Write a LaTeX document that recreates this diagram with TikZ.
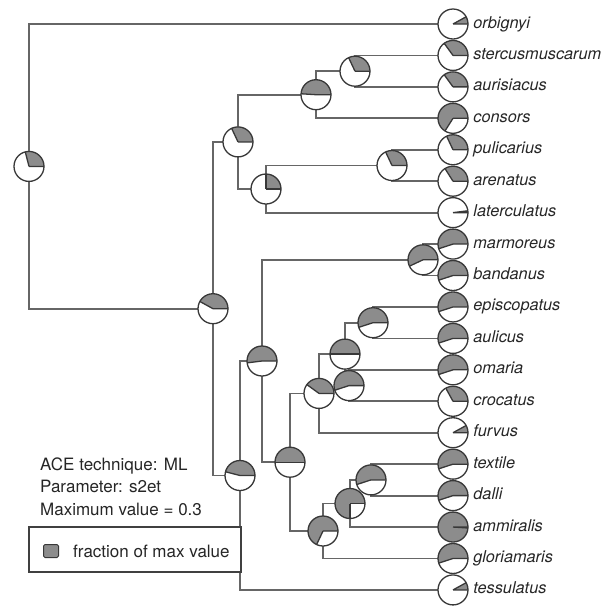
\documentclass[tikz,border=0pt]{standalone}
\usepackage{fontspec}
\setmainfont{TeX Gyre Heros}
\usetikzlibrary{positioning,backgrounds}
\definecolor{EdgeGray}{HTML}{666666}
\definecolor{PieGray}{HTML}{8C8C8C}
\definecolor{PieLine}{HTML}{383838}
\newcommand{\pierad}{15pt}
% one pie: name, position, fraction of max value
\newcommand{\acepie}[3]{%
  \node[piebase] (#1) at (#2) {};
  \fill[PieGray] (#1.center) -- ++(0:\pierad) arc[start angle=0, delta angle={360*#3}, radius=\pierad] -- cycle;
  \draw[pieedge] (#1.center) -- ++(0:\pierad) (#1.center) -- ++({360*#3}:\pierad);
  \draw[pieedge] (#1.center) circle[radius=\pierad];
}
\tikzset{
  piebase/.style={
    circle,
    fill=white,
    minimum size=30pt,
    inner sep=0pt
  },
  pieedge/.style={
    draw=PieLine,
    line width=1.3pt
  },
  treeedge/.style={
    draw=EdgeGray,
    line width=1.8pt
  },
  tiplabel/.style={
    inner sep=0pt,
    text height=11pt,
    text depth=3pt,
    font=\fontsize{16.3}{19}\selectfont\itshape,
    text=black!85
  },
  legendtext/.style={
    inner sep=0pt,
    font=\fontsize{17}{20}\selectfont,
    text=black!85
  }
}
\begin{document}
\begin{tikzpicture}[x=1pt,y=1pt]
\useasboundingbox (0,0) rectangle (602,-606);
% tips
\foreach \tip/\f [count=\i from 0] in {orbignyi/0.08, stercusmuscarum/0.35, aurisiacus/0.35,
    consors/0.66, pulicarius/0.32, arenatus/0.34, laterculatus/0.02, marmoreus/0.55,
    bandanus/0.55, episcopatus/0.55, aulicus/0.55, omaria/0.55, crocatus/0.33,
    furvus/0.08, textile/0.55, dalli/0.55, ammiralis/0.99, gloriamaris/0.55, tessulatus/0.08}
{
  \acepie{\tip}{453,{-24-31.44*\i}}{\f}
  \node[tiplabel, right=5pt of \tip] (\tip-label) {\tip};
}
% internal nodes
\acepie{root}{29,-166.4}{0.29}
\acepie{cladeA}{213,-308.7}{0.42}
\acepie{cladeB}{238,-141.9}{0.32}
\acepie{cladeD}{316,-94.7}{0.49}
\acepie{cladeF}{355,-71.2}{0.32}
\acepie{cladeE}{266,-189}{0.25}
\acepie{cladeG}{392,-165.5}{0.32}
\acepie{cladeC}{240,-475.5}{0.46}
\acepie{cladeH}{262,-361}{0.52}
\acepie{cladeI}{423,-259.8}{0.57}
\acepie{cladeJ}{290,-462.2}{0.5}
\acepie{cladeK}{319,-393.4}{0.4}
\acepie{cladeM}{345,-354.1}{0.5}
\acepie{cladeO}{373,-322.7}{0.55}
\acepie{cladeN}{349,-385.6}{0.55}
\acepie{cladeL}{323,-531}{0.68}
\acepie{cladeP}{350,-503.5}{0.75}
\acepie{cladeQ}{371,-479.9}{0.55}
% branches
\begin{scope}[on background layer]
\draw[treeedge] (root.center) |- (orbignyi.center);
\draw[treeedge] (root.center) |- (cladeA.center);
\draw[treeedge] (cladeA.center) |- (cladeB.center);
\draw[treeedge] (cladeA.center) |- (cladeC.center);
\draw[treeedge] (cladeB.center) |- (cladeD.center);
\draw[treeedge] (cladeB.center) |- (cladeE.center);
\draw[treeedge] (cladeD.center) |- (cladeF.center);
\draw[treeedge] (cladeD.center) |- (consors.center);
\draw[treeedge] (cladeF.center) |- (stercusmuscarum.center);
\draw[treeedge] (cladeF.center) |- (aurisiacus.center);
\draw[treeedge] (cladeE.center) |- (cladeG.center);
\draw[treeedge] (cladeE.center) |- (laterculatus.center);
\draw[treeedge] (cladeG.center) |- (pulicarius.center);
\draw[treeedge] (cladeG.center) |- (arenatus.center);
\draw[treeedge] (cladeC.center) |- (cladeH.center);
\draw[treeedge] (cladeC.center) |- (tessulatus.center);
\draw[treeedge] (cladeH.center) |- (cladeI.center);
\draw[treeedge] (cladeH.center) |- (cladeJ.center);
\draw[treeedge] (cladeI.center) |- (marmoreus.center);
\draw[treeedge] (cladeI.center) |- (bandanus.center);
\draw[treeedge] (cladeJ.center) |- (cladeK.center);
\draw[treeedge] (cladeJ.center) |- (cladeL.center);
\draw[treeedge] (cladeK.center) |- (cladeM.center);
\draw[treeedge] (cladeK.center) |- (furvus.center);
\draw[treeedge] (cladeM.center) |- (cladeO.center);
\draw[treeedge] (cladeM.center) |- (cladeN.center);
\draw[treeedge] (cladeO.center) |- (episcopatus.center);
\draw[treeedge] (cladeO.center) |- (aulicus.center);
\draw[treeedge] (cladeN.center) |- (omaria.center);
\draw[treeedge] (cladeN.center) |- (crocatus.center);
\draw[treeedge] (cladeL.center) |- (cladeP.center);
\draw[treeedge] (cladeL.center) |- (gloriamaris.center);
\draw[treeedge] (cladeP.center) |- (cladeQ.center);
\draw[treeedge] (cladeP.center) |- (ammiralis.center);
\draw[treeedge] (cladeQ.center) |- (textile.center);
\draw[treeedge] (cladeQ.center) |- (dalli.center);
\end{scope}
% legend
\node[legendtext, anchor=base west] (technique) at (40,-470) {ACE technique: ML};
\node[legendtext, anchor=base west] (parameter) at (40,-492.5) {Parameter: s2et};
\node[legendtext, anchor=base west] (maxvalue) at (40,-515) {Maximum value = 0.3};
\node[draw=black!75, line width=1.2pt, fill=white, minimum width=212pt, minimum height=45pt] (legend) at (135,-549.5) {};
\node[draw=PieLine, fill=PieGray, line width=1pt, rounded corners=1.5pt, minimum width=15pt, minimum height=13pt, inner sep=0pt] (key) at (51,-551) {};
\node[legendtext, right=14pt of key] (keytext) {fraction of max value};
\end{tikzpicture}
\end{document}
